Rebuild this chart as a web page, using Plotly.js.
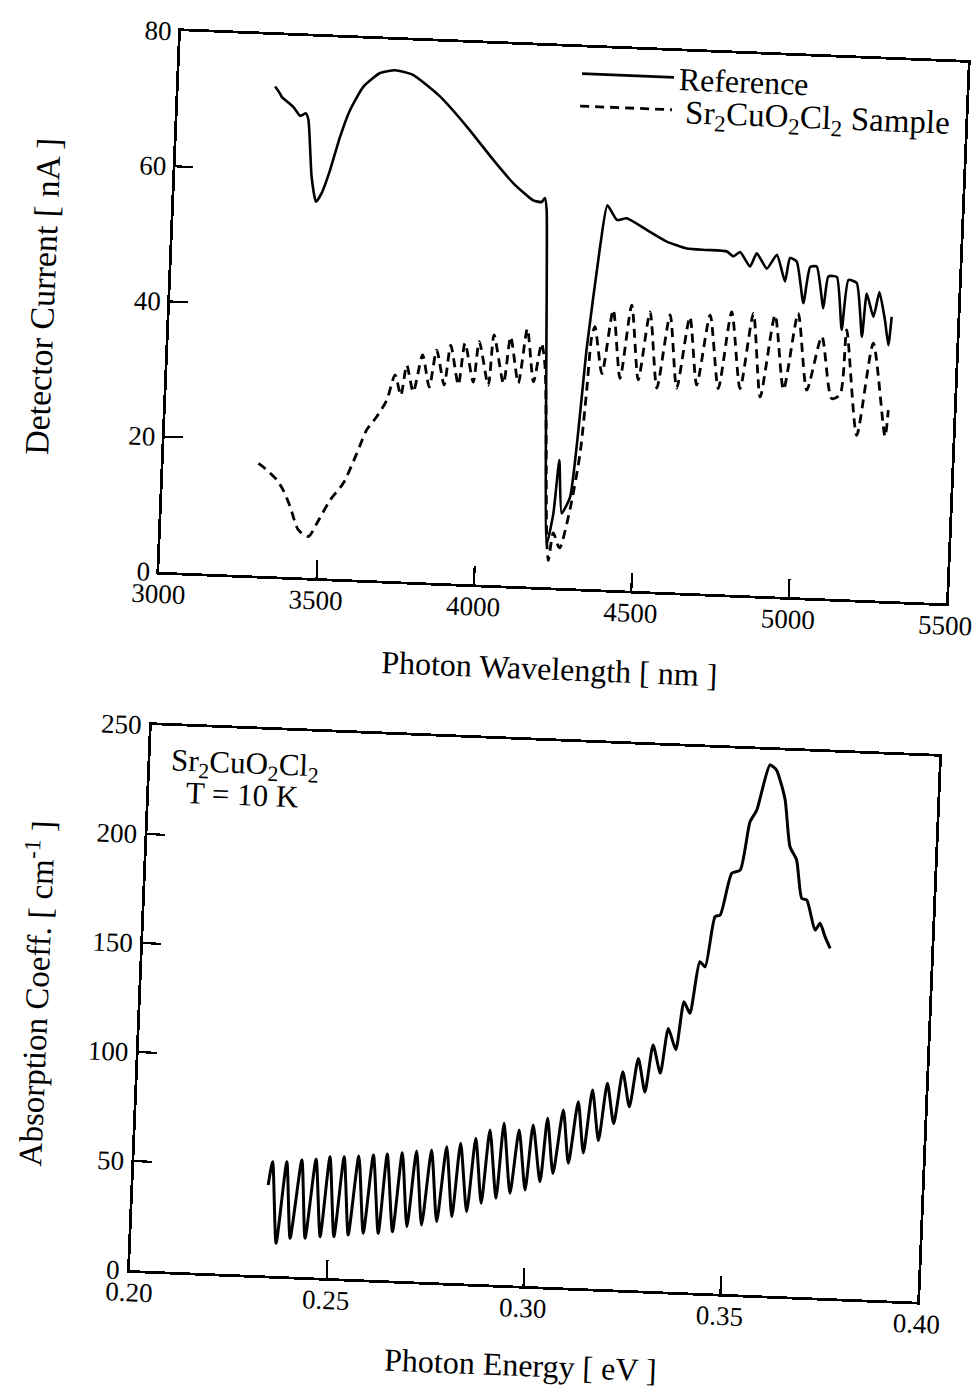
<!DOCTYPE html>
<html>
<head>
<meta charset="utf-8">
<script src="https://cdn.plot.ly/plotly-3.0.1.min.js"></script>
<style>
html,body{margin:0;padding:0;background:#fff;overflow:hidden;width:975px;height:1389px;}
#chart{width:975px;height:1389px;transform:rotate(2.3deg);transform-origin:487.5px 694.5px;}
</style>
</head>
<body>
<div id="chart"></div>
<script>
// ---- Top panel: detector current vs wavelength ----
const refWavelength = [3306,3322,3328,3366,3389,3407,3416,3433,3450,3467,3491,3518,3547,3586,3637,3684,3743,3830,3919,4008,4074,4139,4166,4176,4183,4226,4243,4255,4269,4294,4328,4357,4375,4407,4438,4503,4568,4632,4696,4760,4781,4802,4835,4855,4889,4919,4948,4961,4983,5009,5026,5047,5073,5085,5112,5134,5149,5176,5199,5209,5233,5249,5270,5284,5291];
const refCurrent = [72.4,71.4,70.9,69.5,68.2,68.6,67.6,59.3,55.6,56.9,60.4,65.3,69.4,72.9,75.0,75.5,74.9,71.9,67.6,62.8,59.5,57.1,56.9,57.5,55.7,6.5,11.0,18.9,11.0,13.5,35.8,50.6,56.8,54.7,55.0,53.4,51.8,50.9,50.8,50.7,50.0,50.7,48.6,50.6,48.4,50.5,46.6,50.1,49.6,43.5,48.9,49.0,42.9,47.6,47.6,39.8,47.2,46.8,38.9,45.3,41.9,45.6,41.5,37.8,42.0];

const sampleWavelength = [3301,3317,3345,3361,3383,3407,3436,3469,3494,3533,3573,3612,3640,3670,3700,3723,3744,3759,3783,3808,3833,3852,3880,3896,3925,3941,3972,3986,4020,4032,4068,4085,4115,4137,4163,4184,4198,4226,4233,4245,4263,4268,4295,4320,4333,4342,4351,4379,4407,4437,4465,4495,4524,4555,4588,4618,4651,4681,4715,4750,4783,4819,4852,4884,4921,4957,4994,5031,5072,5111,5137,5150,5195,5236,5285,5292];
const sampleCurrent = [16.6,16.1,15.0,14.3,12.8,10.4,7.0,6.1,8.1,11.6,14.2,18.7,22.2,24.2,26.7,30.5,27.5,32.0,28.1,33.6,28.9,34.4,29.3,35.2,29.4,35.6,29.9,35.9,29.5,37.0,29.9,36.8,30.0,38.1,30.3,36.0,32.5,6.5,4.0,8.1,6.1,5.9,11.6,20.0,29.4,37.3,38.8,31.9,41.4,31.3,42.2,31.2,41.3,30.1,41.0,30.2,40.8,30.8,41.2,30.4,41.8,30.5,41.7,29.4,41.6,30.6,42.0,30.7,38.7,29.6,30.2,39.8,24.3,38.0,24.3,28.2];

// ---- Bottom panel: absorption coefficient vs photon energy ----
const photonEnergy = [0.2342,0.2351,0.2368,0.2387,0.2403,0.2425,0.2441,0.2461,0.2479,0.2496,0.2514,0.2532,0.2550,0.2569,0.2588,0.2606,0.2626,0.2641,0.2662,0.2679,0.2698,0.2715,0.2735,0.2753,0.2773,0.2791,0.2811,0.2826,0.2848,0.2864,0.2884,0.2899,0.2921,0.2934,0.2956,0.2973,0.2994,0.3008,0.3031,0.3044,0.3063,0.3083,0.3101,0.3120,0.3138,0.3155,0.3175,0.3192,0.3212,0.3230,0.3250,0.3268,0.3288,0.3304,0.3325,0.3341,0.3362,0.3378,0.3394,0.3414,0.3428,0.3448,0.3461,0.3486,0.3507,0.3527,0.3543,0.3572,0.3589,0.3599,0.3614,0.3631,0.3649,0.3666,0.3679,0.3703,0.3715,0.3729,0.3743];
const absorption = [41.5,52.3,15.0,52.5,17.5,53.6,17.8,54.2,18.8,55.6,19.1,55.9,20.1,56.5,21.2,57.2,21.4,57.9,22.4,58.8,25.0,59.8,26.0,60.5,27.8,62.3,30.4,64.2,32.9,66.7,37.1,70.8,39.6,74.1,42.2,71.3,44.0,73.9,48.0,77.2,52,81.3,57,85.4,62,91.0,68,94.3,76,99.9,84,106.3,91,112.7,100,120.6,111,133.1,127.9,151.7,149.5,172.6,173.5,192.8,194.4,216.7,222.2,243.1,240.9,236.4,227.3,206.0,200.1,182.6,181.9,168.3,171.5,165.5,160.2];

const topXTicks = [3000,3500,4000,4500,5000,5500];
const topYTicks = [0,20,40,60,80];
const botXTicks = [0.20,0.25,0.30,0.35,0.40];
const botXLabels = ['0.20','0.25','0.30','0.35','0.40'];
const botYTicks = [0,50,100,150,200,250];

const FONT = 'Liberation Serif, Times New Roman, serif';
const tickFont = {family: FONT, size: 27, color: '#000'};
const xTitleFont = {family: FONT, size: 32, color: '#000'};

function axis(extra) {
  return Object.assign({
    showline: true, linecolor: '#000', linewidth: 2.8, mirror: true,
    ticks: 'inside', ticklen: 18, tickwidth: 2.2, tickcolor: '#000',
    showgrid: false, zeroline: false, tickfont: tickFont, automargin: false
  }, extra);
}

const traces = [
  {x: refWavelength, y: refCurrent, xaxis: 'x', yaxis: 'y', type: 'scatter', mode: 'lines',
   name: 'Reference', legend: 'legend',
   line: {color: '#000', width: 2.6, shape: 'spline', smoothing: 0.5}},
  {x: sampleWavelength, y: sampleCurrent, xaxis: 'x', yaxis: 'y', type: 'scatter', mode: 'lines',
   name: '\u00a0Sr<sub>2</sub>CuO<sub>2</sub>Cl<sub>2</sub> Sample', legend: 'legend2',
   line: {color: '#000', width: 2.8, dash: '9px,6px', shape: 'spline', smoothing: 0.7}},
  {x: photonEnergy, y: absorption, xaxis: 'x2', yaxis: 'y2', type: 'scatter', mode: 'lines',
   name: 'Absorption', showlegend: false,
   line: {color: '#000', width: 3, shape: 'spline', smoothing: 0.6}}
];

const layout = {
  width: 975, height: 1389,
  margin: {l: 0, r: 0, t: 0, b: 0},
  paper_bgcolor: '#fff', plot_bgcolor: '#fff',
  font: {family: FONT, color: '#000'},
  showlegend: true,
  legend: {x: 0.5662, y: 0.9690, xanchor: 'left', yanchor: 'top',
           bgcolor: 'rgba(0,0,0,0)', font: {family: FONT, size: 32, color: '#000'}, itemwidth: 92},
  legend2: {x: 0.5656, y: 0.9461, xanchor: 'left', yanchor: 'top',
           bgcolor: 'rgba(0,0,0,0)', font: {family: FONT, size: 33, color: '#000'}, itemwidth: 92},
  xaxis: axis({domain: [0.1585, 0.9662], range: [3000, 5500], tickvals: topXTicks, anchor: 'y',
    ticklabelstandoff: -4,
    title: {text: 'Photon Wavelength [ nm ]', font: xTitleFont, standoff: 34}}),
  yaxis: axis({domain: [0.5788, 0.9683], range: [0, 80], tickvals: topYTicks, anchor: 'x',
    ticklabelstandoff: 1,
    title: {text: 'Detector Current [ nA ]', font: {family: FONT, size: 34, color: '#000'}, standoff: 69}}),
  xaxis2: axis({domain: [0.1572, 0.9654], range: [0.20, 0.40], tickvals: botXTicks, ticktext: botXLabels, anchor: 'y2',
    ticklabelstandoff: -4,
    title: {text: 'Photon Energy [ eV ]', font: xTitleFont, standoff: 32}}),
  yaxis2: axis({domain: [0.0756, 0.4683], range: [0, 250], tickvals: botYTicks, anchor: 'x2',
    ticklabelstandoff: 2,
    title: {text: 'Absorption Coeff. [ cm<sup>-1</sup> ]', font: {family: FONT, size: 33, color: '#000'}, standoff: 32}}),
  annotations: [
    {xref: 'paper', yref: 'paper', x: 0.2544, y: 0.4420, xanchor: 'center', yanchor: 'middle',
     text: 'Sr<sub>2</sub>CuO<sub>2</sub>Cl<sub>2</sub>', showarrow: false, font: {family: FONT, size: 31, color: '#000'}},
    {xref: 'paper', yref: 'paper', x: 0.2533, y: 0.4205, xanchor: 'center', yanchor: 'middle',
     text: 'T = 10 K', showarrow: false, font: {family: FONT, size: 31, color: '#000'}}
  ]
};

Plotly.newPlot('chart', traces, layout, {displayModeBar: false, staticPlot: true});
</script>
</body>
</html>
